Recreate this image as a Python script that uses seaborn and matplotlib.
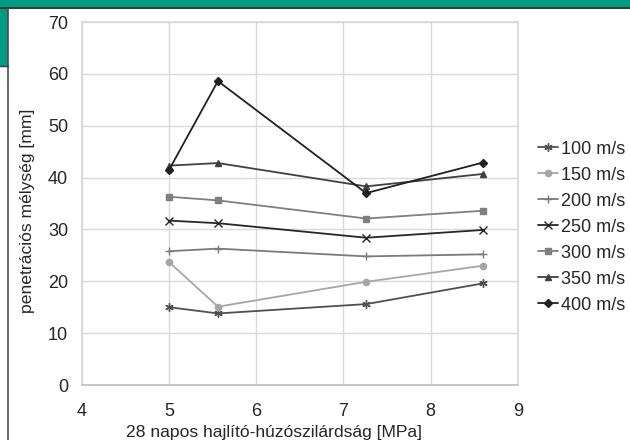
import pandas as pd
import matplotlib.pyplot as plt
import seaborn as sns
from matplotlib.patches import Rectangle
from matplotlib.lines import Line2D

# x positions (28-day flexural strength, MPa)
strength = [5.0, 5.56, 7.26, 8.6]
speeds = ["100 m/s", "150 m/s", "200 m/s", "250 m/s", "300 m/s", "350 m/s", "400 m/s"]

# penetration depth [mm] per impact speed
v100 = [15.0, 13.8, 15.6, 19.6]
v150 = [23.7, 15.1, 19.9, 23.0]
v200 = [25.8, 26.3, 24.8, 25.2]
v250 = [31.7, 31.2, 28.4, 29.9]
v300 = [36.3, 35.6, 32.1, 33.6]
v350 = [42.3, 42.8, 38.3, 40.7]
v400 = [41.5, 58.6, 37.0, 42.9]

series = [v100, v150, v200, v250, v300, v350, v400]
rows = []
for name, vals in zip(speeds, series):
    for x, y in zip(strength, vals):
        rows.append({"x": x, "y": y, "speed": name})
df = pd.DataFrame(rows)

colors = {"100 m/s": "#505050", "150 m/s": "#a6a6a6", "200 m/s": "#7a7a7a",
          "250 m/s": "#262626", "300 m/s": "#7f7f7f", "350 m/s": "#404040",
          "400 m/s": "#202020"}
markers = {"100 m/s": (6, 2, 0), "150 m/s": "o", "200 m/s": "+", "250 m/s": "x",
           "300 m/s": "s", "350 m/s": "^", "400 m/s": "D"}
msize = {"100 m/s": 6, "150 m/s": 4.5, "200 m/s": 6, "250 m/s": 5.5,
         "300 m/s": 4.5, "350 m/s": 4.5, "400 m/s": 4}

sns.set_theme(style="white")
plt.rcParams["font.family"] = ["Liberation Sans", "DejaVu Sans"]

fig = plt.figure(figsize=(6.3, 4.4), dpi=100)

# decorative teal frame corner
fig.patches.append(Rectangle((0, 1 - 8 / 440), 1, 8 / 440, transform=fig.transFigure,
                             facecolor="#009b82", edgecolor="none", zorder=0))
fig.patches.append(Rectangle((0, 1 - 66 / 440), 8 / 630, 58 / 440, transform=fig.transFigure,
                             facecolor="#009b82", edgecolor="none", zorder=0))
fig.lines.append(Line2D([0, 1], [1 - 8 / 440, 1 - 8 / 440], transform=fig.transFigure,
                        color="#2f3f3a", lw=1.5))
fig.lines.append(Line2D([8 / 630, 8 / 630], [0, 1 - 8 / 440], transform=fig.transFigure,
                        color="#4a4a4a", lw=1.2))
fig.lines.append(Line2D([0, 8 / 630], [1 - 66 / 440, 1 - 66 / 440], transform=fig.transFigure,
                        color="#2f3f3a", lw=1.0))

ax = fig.add_axes([0.130, 0.125, 0.692, 0.825])

for name in speeds:
    sub = df[df["speed"] == name]
    sns.lineplot(data=sub, x="x", y="y", ax=ax, color=colors[name], marker=markers[name],
                 markersize=msize[name], markeredgewidth=1.0, markeredgecolor=colors[name],
                 linewidth=1.3, label=name)

ax.set_xlim(4, 9)
ax.set_ylim(0, 70)
ax.set_xticks(range(4, 10))
ax.set_yticks(range(0, 71, 10))
ax.grid(True, color="#d9d9d9", linewidth=1.0)
for s in ax.spines.values():
    s.set_color("#d9d9d9")
ax.spines["bottom"].set_color("#bfbfbf")
ax.tick_params(labelsize=13, colors="#262626")
ax.tick_params(axis="x", pad=7)
ax.tick_params(axis="y", pad=4)
ax.set_xlabel("28 napos hajlító-húzószilárdság [MPa]", fontsize=12.6, color="#262626")
ax.set_ylabel("penetrációs mélység [mm]", fontsize=12.6, color="#262626")
ax.xaxis.set_label_coords(0.44, -0.11)
ax.yaxis.set_label_coords(-0.108, 0.48)

ax.legend(loc="center left", bbox_to_anchor=(1.03, 0.435), frameon=False, fontsize=13,
          handlelength=1.1, handletextpad=0.15, labelspacing=0.5, borderaxespad=0)

fig.savefig("out.png", dpi=100, facecolor="white")
